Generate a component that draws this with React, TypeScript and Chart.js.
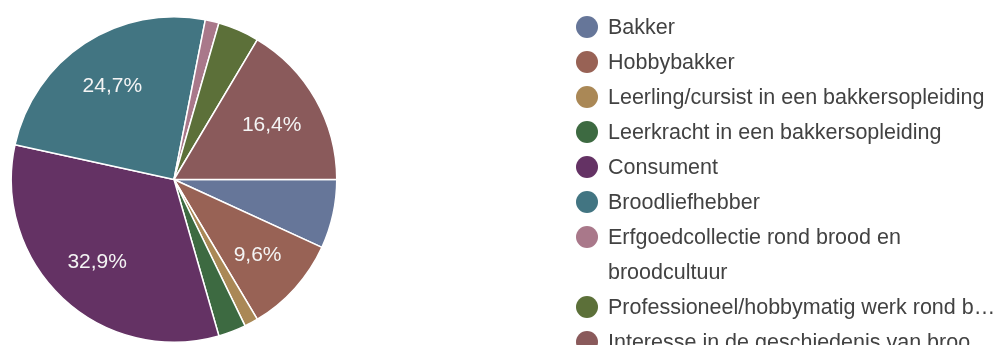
import React, { useEffect, useRef } from "react";
import { Chart, registerables } from "chart.js";

Chart.register(...registerables);

const categories = [
  "Bakker",
  "Hobbybakker",
  "Leerling/cursist in een bakkersopleiding",
  "Leerkracht in een bakkersopleiding",
  "Consument",
  "Broodliefhebber",
  "Erfgoedcollectie rond brood en broodcultuur",
  "Professioneel/hobbymatig werk rond b…",
  "Interesse in de geschiedenis van broo…",
];
const legendLines = [
  ["Bakker"],
  ["Hobbybakker"],
  ["Leerling/cursist in een bakkersopleiding"],
  ["Leerkracht in een bakkersopleiding"],
  ["Consument"],
  ["Broodliefhebber"],
  ["Erfgoedcollectie rond brood en", "broodcultuur"],
  ["Professioneel/hobbymatig werk rond b…"],
  ["Interesse in de geschiedenis van broo…"],
];
const counts = [5, 7, 1, 2, 24, 18, 1, 3, 12];
const colors = [
  "#667699",
  "#986255",
  "#aa8856",
  "#3d6a41",
  "#643264",
  "#427582",
  "#a9788a",
  "#5c7039",
  "#8a5a5b",
];

const FONT = "'Liberation Sans', Arial, sans-serif";

const labelPlugin = {
  id: "sliceLabels",
  afterDatasetsDraw(chart: any) {
    const meta = chart.getDatasetMeta(0);
    const data = chart.data.datasets[0].data as number[];
    const total = data.reduce((a, b) => a + b, 0);
    const ctx = chart.ctx;
    ctx.save();
    ctx.font = `21px ${FONT}`;
    ctx.fillStyle = "#f4f4f4";
    ctx.textAlign = "center";
    ctx.textBaseline = "middle";
    meta.data.forEach((arc: any, i: number) => {
      const pct = (data[i] / total) * 100;
      if (pct < 9) return;
      const { x, y, startAngle, endAngle, outerRadius } = arc.getProps(
        ["x", "y", "startAngle", "endAngle", "outerRadius"],
        true
      );
      const mid = (startAngle + endAngle) / 2;
      const r = outerRadius * 0.69;
      const txt = pct.toFixed(1).replace(".", ",") + "%";
      ctx.fillText(txt, x + Math.cos(mid) * r, y + Math.sin(mid) * r + 1);
    });
    ctx.restore();
  },
};

export default function App() {
  const ref = useRef<HTMLCanvasElement | null>(null);
  useEffect(() => {
    if (!ref.current) return;
    const chart = new Chart(ref.current, {
      type: "pie",
      data: {
        labels: categories,
        datasets: [
          {
            data: counts,
            backgroundColor: colors,
            borderColor: "#ffffff",
            borderWidth: 1.5,
          },
        ],
      },
      options: {
        animation: false,
        responsive: false,
        rotation: 90,
        layout: { padding: { left: 10, top: 16, right: 662, bottom: 2 } },
        plugins: {
          legend: { display: false },
          tooltip: { enabled: false },
        },
      },
      plugins: [labelPlugin],
    });
    return () => chart.destroy();
  }, []);

  const legendTop = 27;
  const step = 35;
  let row = 0;
  return (
    <div
      style={{
        position: "fixed",
        left: 0,
        top: 0,
        width: 1000,
        height: 345,
        background: "#ffffff",
        overflow: "hidden",
      }}
    >
      <canvas ref={ref} width={1000} height={345} style={{ position: "absolute", left: 0, top: 0 }} />
      {legendLines.map((lines, i) => {
        const startRow = row;
        row += lines.length;
        return (
          <div key={i}>
            <div
              style={{
                position: "absolute",
                left: 576,
                top: legendTop + startRow * step - 11,
                width: 22,
                height: 22,
                borderRadius: "50%",
                background: colors[i],
              }}
            />
            {lines.map((ln, j) => (
              <div
                key={j}
                style={{
                  position: "absolute",
                  left: 608,
                  top: legendTop + (startRow + j) * step - 15,
                  height: 30,
                  lineHeight: "30px",
                  fontFamily: FONT,
                  fontSize: 21.5,
                  color: "#424242",
                  whiteSpace: "nowrap",
                }}
              >
                {ln}
              </div>
            ))}
          </div>
        );
      })}
    </div>
  );
}
